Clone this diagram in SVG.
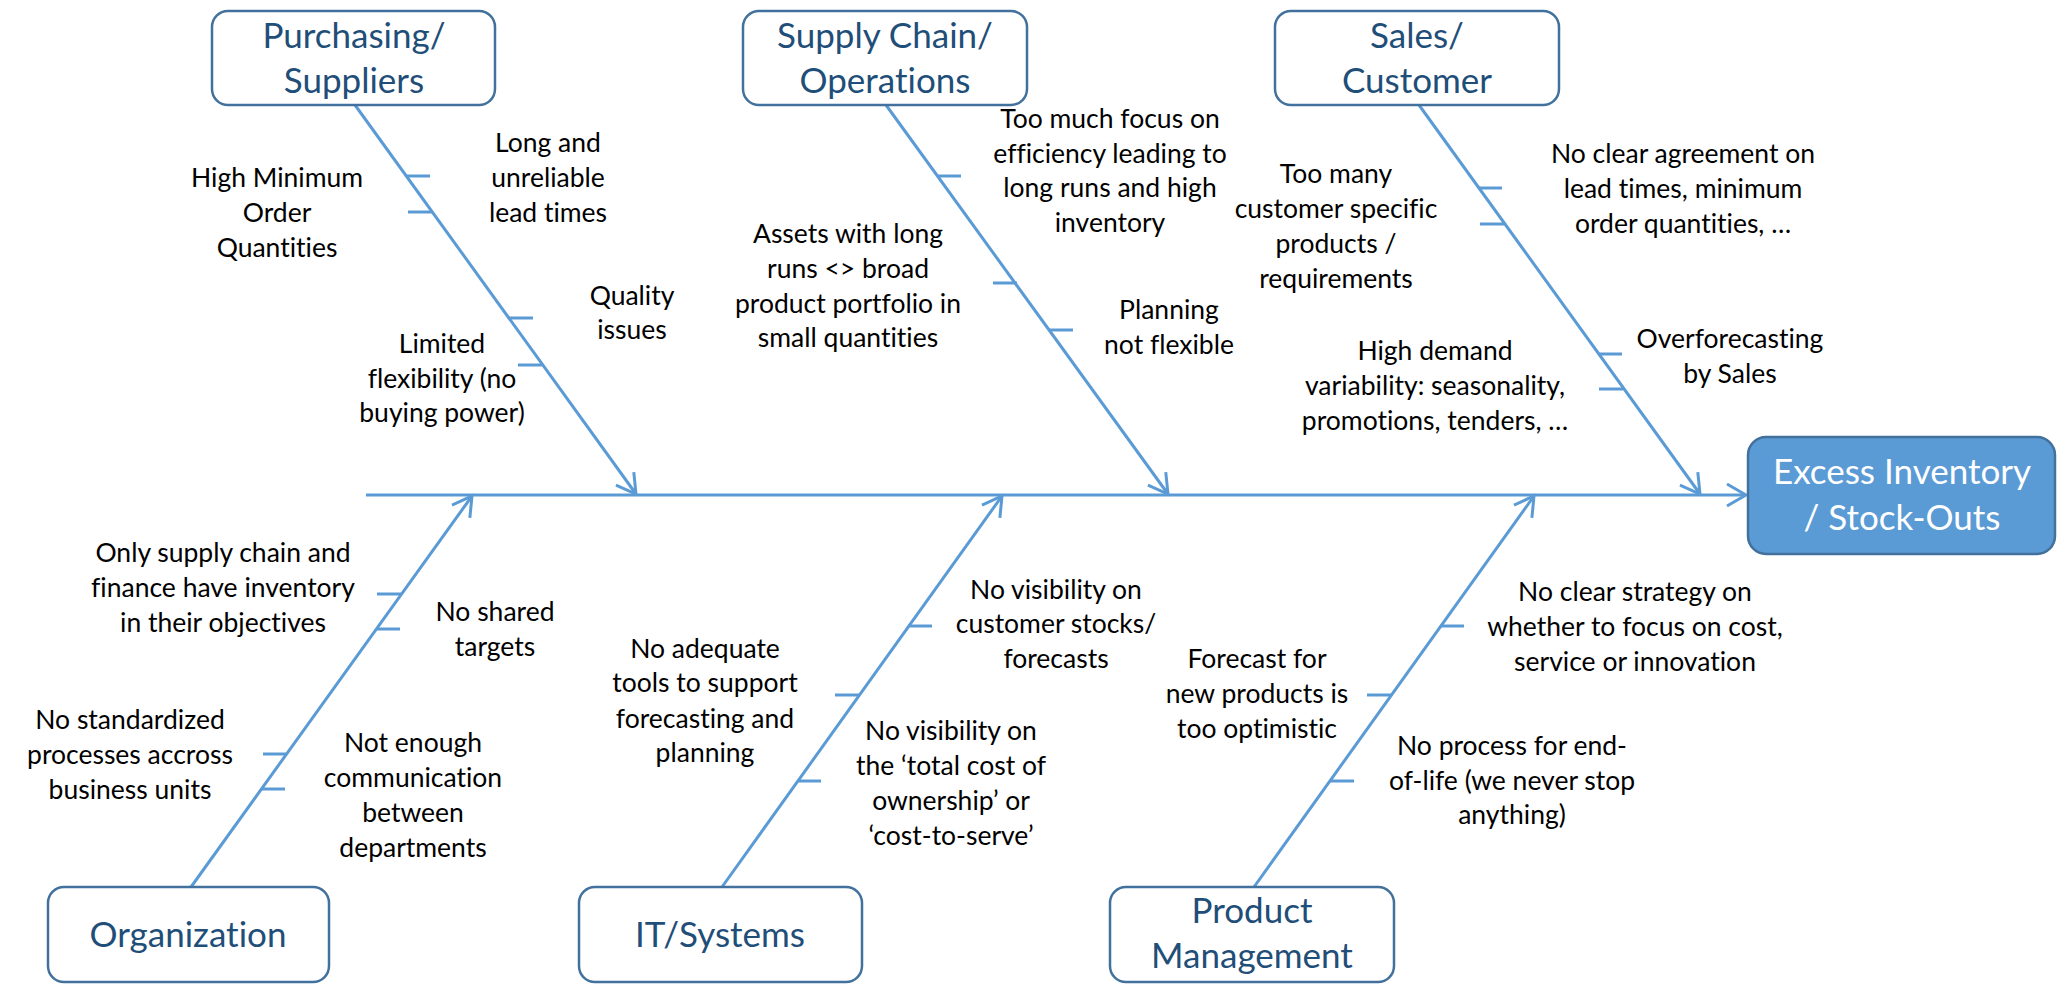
<svg xmlns="http://www.w3.org/2000/svg" width="2058" height="1001" viewBox="0 0 2058 1001">
<defs>
<style>
text{font-variant-ligatures:none;font-feature-settings:"liga" 0,"clig" 0}
.box{fill:#fff;stroke:#41719C;stroke-width:2.5}
.ebox{fill:#5B9BD5;stroke:#41719C;stroke-width:2.5}
.h{font-family:Lato,"Liberation Sans",sans-serif;font-size:35px;fill:#1F4E79;text-anchor:middle}
.eh{font-family:Lato,"Liberation Sans",sans-serif;font-size:35px;fill:#fff;text-anchor:middle}
.t{font-family:Lato,"Liberation Sans",sans-serif;font-size:26.5px;fill:#000;text-anchor:middle}
.ln{stroke:#5B9BD5;stroke-width:3;fill:none}
.tk{stroke:#5B9BD5;stroke-width:3}
</style>
<marker id="arr" markerUnits="userSpaceOnUse" viewBox="-22 -13 24 26" markerWidth="24" markerHeight="26" refX="0" refY="0" orient="auto" overflow="visible">
<path d="M-19,-11 L0,0 L-19,11" fill="none" stroke="#5B9BD5" stroke-width="3"/>
</marker>
</defs>
<rect width="2058" height="1001" fill="#fff"/>

<g id="connectors">
<path class="ln" d="M366,495 L1746,495" marker-end="url(#arr)"/>
<path class="ln" d="M355,105 L636,494" marker-end="url(#arr)"/>
<path class="ln" d="M886,105 L1168,494" marker-end="url(#arr)"/>
<path class="ln" d="M1419,105 L1700,494" marker-end="url(#arr)"/>
<path class="ln" d="M191,887 L472,496" marker-end="url(#arr)"/>
<path class="ln" d="M722,887 L1002,496" marker-end="url(#arr)"/>
<path class="ln" d="M1254,887 L1534,496" marker-end="url(#arr)"/>
<g id="ticks">
<line class="tk" x1="406" y1="176" x2="430" y2="176"/>
<line class="tk" x1="408" y1="212" x2="432" y2="212"/>
<line class="tk" x1="509" y1="318" x2="533" y2="318"/>
<line class="tk" x1="518" y1="365" x2="542" y2="365"/>
<line class="tk" x1="937" y1="176" x2="961" y2="176"/>
<line class="tk" x1="993" y1="283" x2="1017" y2="283"/>
<line class="tk" x1="1049" y1="330" x2="1073" y2="330"/>
<line class="tk" x1="1478" y1="188" x2="1502" y2="188"/>
<line class="tk" x1="1480" y1="224" x2="1504" y2="224"/>
<line class="tk" x1="1598" y1="354" x2="1622" y2="354"/>
<line class="tk" x1="1599" y1="389" x2="1623" y2="389"/>
<line class="tk" x1="377" y1="594" x2="401" y2="594"/>
<line class="tk" x1="376" y1="629" x2="400" y2="629"/>
<line class="tk" x1="263" y1="754" x2="287" y2="754"/>
<line class="tk" x1="261" y1="789" x2="285" y2="789"/>
<line class="tk" x1="908" y1="626" x2="932" y2="626"/>
<line class="tk" x1="835" y1="695" x2="859" y2="695"/>
<line class="tk" x1="797" y1="781" x2="821" y2="781"/>
<line class="tk" x1="1440" y1="626" x2="1464" y2="626"/>
<line class="tk" x1="1367" y1="695" x2="1391" y2="695"/>
<line class="tk" x1="1330" y1="781" x2="1354" y2="781"/>
</g>
</g>

<g id="purchasing">
<rect class="box" x="212" y="11" width="283" height="94" rx="16"/>
<text class="h"><tspan x="354" y="48">Purchasing/</tspan><tspan x="354" y="93">Suppliers</tspan></text>
</g>
<g id="supplychain">
<rect class="box" x="743" y="11" width="284" height="94" rx="16"/>
<text class="h"><tspan x="885" y="48">Supply Chain/</tspan><tspan x="885" y="93">Operations</tspan></text>
</g>
<g id="sales">
<rect class="box" x="1275" y="11" width="284" height="94" rx="16"/>
<text class="h"><tspan x="1417" y="48">Sales/</tspan><tspan x="1417" y="93">Customer</tspan></text>
</g>
<g id="organization">
<rect class="box" x="48" y="887" width="281" height="95" rx="16"/>
<text class="h" x="188" y="947">Organization</text>
</g>
<g id="itsystems">
<rect class="box" x="579" y="887" width="283" height="95" rx="16"/>
<text class="h" x="720" y="947">IT/Systems</text>
</g>
<g id="productmgmt">
<rect class="box" x="1110" y="887" width="284" height="95" rx="16"/>
<text class="h"><tspan x="1252" y="923">Product</tspan><tspan x="1252" y="968">Management</tspan></text>
</g>
<g id="effect">
<rect class="ebox" x="1748" y="437" width="307" height="117" rx="18"/>
<text class="eh"><tspan x="1902" y="484">Excess Inventory</tspan><tspan x="1902" y="530">/ Stock-Outs</tspan></text>
</g>

<g id="causes">
<text class="t"><tspan x="277" y="187">High Minimum</tspan><tspan x="277" y="222">Order</tspan><tspan x="277" y="257">Quantities</tspan></text>
<text class="t"><tspan x="548" y="152">Long and</tspan><tspan x="548" y="187">unreliable</tspan><tspan x="548" y="222">lead times</tspan></text>
<text class="t"><tspan x="632" y="305">Quality</tspan><tspan x="632" y="339">issues</tspan></text>
<text class="t"><tspan x="442" y="353">Limited</tspan><tspan x="442" y="388">flexibility (no</tspan><tspan x="442" y="422">buying power)</tspan></text>

<text class="t"><tspan x="1110" y="128">Too much focus on</tspan><tspan x="1110" y="163">efficiency leading to</tspan><tspan x="1110" y="197">long runs and high</tspan><tspan x="1110" y="232">inventory</tspan></text>
<text class="t"><tspan x="848" y="243">Assets with long</tspan><tspan x="848" y="278">runs &lt;&gt; broad</tspan><tspan x="848" y="313">product portfolio in</tspan><tspan x="848" y="347">small quantities</tspan></text>
<text class="t"><tspan x="1169" y="319">Planning</tspan><tspan x="1169" y="354">not flexible</tspan></text>

<text class="t"><tspan x="1683" y="163">No clear agreement on</tspan><tspan x="1683" y="198">lead times, minimum</tspan><tspan x="1683" y="233">order quantities, …</tspan></text>
<text class="t"><tspan x="1336" y="183">Too many</tspan><tspan x="1336" y="218">customer specific</tspan><tspan x="1336" y="253">products /</tspan><tspan x="1336" y="288">requirements</tspan></text>
<text class="t"><tspan x="1730" y="348">Overforecasting</tspan><tspan x="1730" y="383">by Sales</tspan></text>
<text class="t"><tspan x="1435" y="360">High demand</tspan><tspan x="1435" y="395">variability: seasonality,</tspan><tspan x="1435" y="430">promotions, tenders, …</tspan></text>

<text class="t"><tspan x="223" y="562">Only supply chain and</tspan><tspan x="223" y="597">finance have inventory</tspan><tspan x="223" y="632">in their objectives</tspan></text>
<text class="t"><tspan x="495" y="621">No shared</tspan><tspan x="495" y="656">targets</tspan></text>
<text class="t"><tspan x="130" y="729">No standardized</tspan><tspan x="130" y="764">processes  accross</tspan><tspan x="130" y="799">business units</tspan></text>
<text class="t"><tspan x="413" y="752">Not enough</tspan><tspan x="413" y="787">communication</tspan><tspan x="413" y="822">between</tspan><tspan x="413" y="857">departments</tspan></text>

<text class="t"><tspan x="1056" y="599">No visibility on</tspan><tspan x="1056" y="633">customer stocks/</tspan><tspan x="1056" y="668">forecasts</tspan></text>
<text class="t"><tspan x="705" y="658">No adequate</tspan><tspan x="705" y="692">tools to support</tspan><tspan x="705" y="728">forecasting and</tspan><tspan x="705" y="762">planning</tspan></text>
<text class="t"><tspan x="951" y="740">No visibility on</tspan><tspan x="951" y="775">the ‘total cost of</tspan><tspan x="951" y="810">ownership’ or</tspan><tspan x="951" y="845">‘cost-to-serve’</tspan></text>

<text class="t"><tspan x="1635" y="601">No clear strategy on</tspan><tspan x="1635" y="636">whether to focus on cost,</tspan><tspan x="1635" y="671">service or innovation</tspan></text>
<text class="t"><tspan x="1257" y="668">Forecast for</tspan><tspan x="1257" y="703">new products is</tspan><tspan x="1257" y="738">too optimistic</tspan></text>
<text class="t"><tspan x="1512" y="755">No process for end-</tspan><tspan x="1512" y="790">of-life (we never stop</tspan><tspan x="1512" y="824">anything)</tspan></text>
</g>
</svg>
